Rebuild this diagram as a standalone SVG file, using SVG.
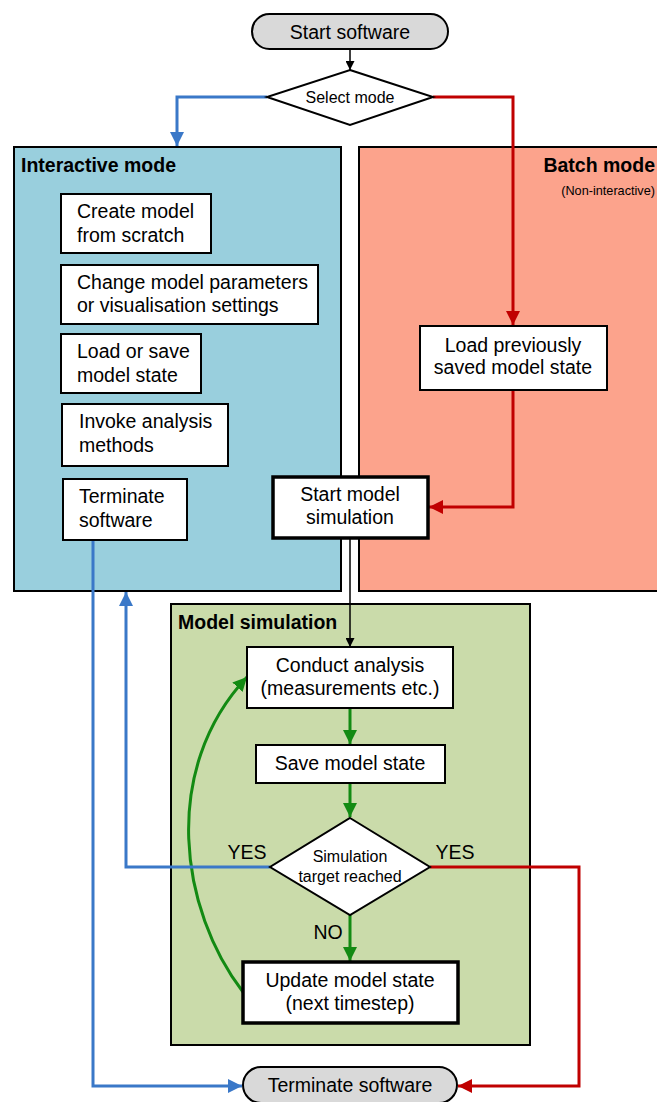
<svg xmlns="http://www.w3.org/2000/svg" width="657" height="1102" viewBox="0 0 657 1102">
  <style>
    text { font-family: "Liberation Sans", Arial, sans-serif; fill: #000; }
    .t { font-size: 19.5px; }
    .c { text-anchor: middle; }
    .s { font-size: 16px; }
    .h { font-size: 19.5px; font-weight: bold; }
    .box { fill: #fff; stroke: #000; stroke-width: 2; }
    .boxb { fill: #fff; stroke: #000; stroke-width: 3.5; }
    .pill { fill: #d9d9d9; stroke: #000; stroke-width: 2; }
    .area { stroke: #000; stroke-width: 2; }
    .blk { fill: none; stroke: #000; stroke-width: 1.5; }
    .blue { fill: none; stroke: #3a78c8; stroke-width: 3; }
    .red { fill: none; stroke: #c00000; stroke-width: 3; }
    .grn { fill: none; stroke: #138a13; stroke-width: 3; }
  </style>
  <defs>
    <marker id="ahK" viewBox="0 0 10 10" refX="10" refY="5" markerWidth="9" markerHeight="9" markerUnits="userSpaceOnUse" orient="auto">
      <path d="M0,0 L10,5 L0,10 z" fill="#000"/>
    </marker>
    <marker id="ahB" viewBox="0 0 10 10" refX="10" refY="5" markerWidth="14" markerHeight="14" markerUnits="userSpaceOnUse" orient="auto">
      <path d="M0,0 L10,5 L0,10 z" fill="#3a78c8"/>
    </marker>
    <marker id="ahR" viewBox="0 0 10 10" refX="10" refY="5" markerWidth="14" markerHeight="14" markerUnits="userSpaceOnUse" orient="auto">
      <path d="M0,0 L10,5 L0,10 z" fill="#c00000"/>
    </marker>
    <marker id="ahG" viewBox="0 0 10 10" refX="10" refY="5" markerWidth="14" markerHeight="14" markerUnits="userSpaceOnUse" orient="auto">
      <path d="M0,0 L10,5 L0,10 z" fill="#138a13"/>
    </marker>
  </defs>

  <rect width="657" height="1102" fill="#fff"/>

  <!-- mode areas -->
  <g id="interactive-mode">
    <rect class="area" x="14" y="147" width="327" height="444" fill="#99cfdd"/>
    <text class="h" x="21" y="172">Interactive mode</text>
  </g>
  <g id="batch-mode">
    <rect class="area" x="359" y="147" width="310" height="444" fill="#fca38c"/>
    <text class="h" x="655" y="172" text-anchor="end">Batch mode</text>
    <text x="655" y="195" text-anchor="end" font-size="12.7">(Non-interactive)</text>
  </g>
  <g id="model-simulation">
    <rect class="area" x="171" y="604" width="359" height="441" fill="#cadbaa"/>
    <text class="h" x="178" y="629">Model simulation</text>
  </g>

  <!-- connectors -->
  <g id="connectors">
    <path class="blk" d="M350,49 V70" marker-end="url(#ahK)"/>
    <path class="blue" d="M267,97 H177 V146" marker-end="url(#ahB)"/>
    <path class="red" d="M433,97 H513 V325" marker-end="url(#ahR)"/>
    <path class="red" d="M513,390 V507 H429" marker-end="url(#ahR)"/>
    <path class="blk" d="M350,538 V647" marker-end="url(#ahK)"/>
    <path class="grn" d="M350,708 V744" marker-end="url(#ahG)"/>
    <path class="grn" d="M350,783 V817" marker-end="url(#ahG)"/>
    <path class="grn" d="M350,915 V961" marker-end="url(#ahG)"/>
    <path class="grn" d="M243,992 C180,910 160,770 247,677" marker-end="url(#ahG)"/>
    <path class="blue" d="M270,867 H126 V592" marker-end="url(#ahB)"/>
    <path class="blue" d="M93,540 V1086 H242" marker-end="url(#ahB)"/>
    <path class="red" d="M430,867 H579 V1086 H458" marker-end="url(#ahR)"/>
    <text class="t c" x="247" y="859">YES</text>
    <text class="t c" x="455" y="859">YES</text>
    <text class="t c" x="328" y="939">NO</text>
  </g>

  <!-- nodes -->
  <g id="start-software">
    <rect class="pill" x="252" y="14" width="196" height="35" rx="17.5"/>
    <text class="t c" x="350" y="38.5">Start software</text>
  </g>
  <g id="select-mode">
    <polygon class="box" points="350,70 433,97 350,125 267,97"/>
    <text class="s c" x="350" y="102.5">Select mode</text>
  </g>
  <g id="create-model">
    <rect class="box" x="61" y="194" width="150" height="59"/>
    <text class="t" x="77" y="218">Create model</text>
    <text class="t" x="77" y="242">from scratch</text>
  </g>
  <g id="change-parameters">
    <rect class="box" x="61" y="265" width="257" height="59"/>
    <text class="t" x="77" y="289">Change model parameters</text>
    <text class="t" x="77" y="312">or visualisation settings</text>
  </g>
  <g id="load-save">
    <rect class="box" x="61" y="334" width="140" height="59"/>
    <text class="t" x="77" y="358">Load or save</text>
    <text class="t" x="77" y="382">model state</text>
  </g>
  <g id="invoke-analysis">
    <rect class="box" x="62" y="404" width="166" height="62"/>
    <text class="t" x="79" y="428">Invoke analysis</text>
    <text class="t" x="79" y="452">methods</text>
  </g>
  <g id="terminate-interactive">
    <rect class="box" x="63" y="479" width="124" height="61"/>
    <text class="t" x="79" y="503">Terminate</text>
    <text class="t" x="79" y="527">software</text>
  </g>
  <g id="load-previous">
    <rect class="box" x="420" y="326" width="187" height="64"/>
    <text class="t c" x="513" y="352">Load previously</text>
    <text class="t c" x="513" y="374">saved model state</text>
  </g>
  <g id="start-simulation">
    <rect class="boxb" x="273" y="477" width="155" height="61"/>
    <text class="t c" x="350" y="501">Start model</text>
    <text class="t c" x="350" y="524">simulation</text>
  </g>
  <g id="conduct-analysis">
    <rect class="box" x="247" y="647" width="206" height="61"/>
    <text class="t c" x="350" y="672">Conduct analysis</text>
    <text class="t c" x="350" y="695">(measurements etc.)</text>
  </g>
  <g id="save-state">
    <rect class="box" x="256" y="745" width="189" height="38"/>
    <text class="t c" x="350" y="770">Save model state</text>
  </g>
  <g id="target-reached">
    <polygon class="box" points="350,818 430,867 350,915 270,867"/>
    <text class="s c" x="350" y="862">Simulation</text>
    <text class="s c" x="350" y="882">target reached</text>
  </g>
  <g id="update-state">
    <rect class="boxb" x="243" y="962" width="215" height="61"/>
    <text class="t c" x="350" y="987">Update model state</text>
    <text class="t c" x="350" y="1010">(next timestep)</text>
  </g>
  <g id="terminate-software">
    <rect class="pill" x="243" y="1067" width="214" height="36" rx="18"/>
    <text class="t c" x="350" y="1092">Terminate software</text>
  </g>
</svg>
